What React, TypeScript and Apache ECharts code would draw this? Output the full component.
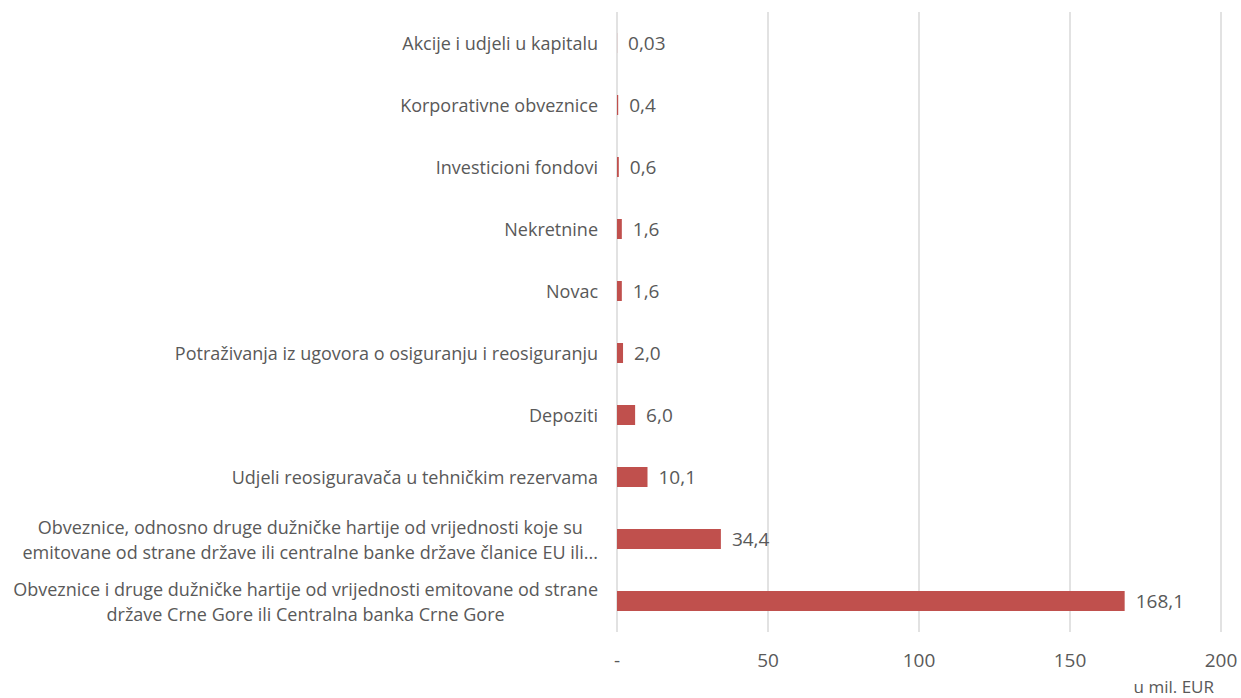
import React, { useEffect, useRef } from "react";
import * as echarts from "echarts";

const categories = [
  "Akcije i udjeli u kapitalu",
  "Korporativne obveznice",
  "Investicioni fondovi",
  "Nekretnine",
  "Novac",
  "Potraživanja iz ugovora o osiguranju i reosiguranju",
  "Depoziti",
  "Udjeli reosiguravača u tehničkim rezervama",
  "Obveznice, odnosno druge dužničke hartije od vrijednosti koje su\nemitovane od strane države ili centralne banke države članice EU ili...",
  "Obveznice i druge dužničke hartije od vrijednosti emitovane od strane\ndržave Crne Gore ili Centralna banka Crne Gore",
];

const values = [0.03, 0.4, 0.6, 1.6, 1.6, 2.0, 6.0, 10.1, 34.4, 168.1];

const xTicks = [0, 50, 100, 150, 200];
const unitLabel = "u mil. EUR";

const FONT = "Open Sans";
const TEXT = "#595959";
const FS = 18;
const FSN = 19;

function fmt(v: number): string {
  const s = v < 0.1 ? v.toFixed(2) : v.toFixed(1);
  return s.replace(".", ",");
}

export default function App() {
  const ref = useRef<HTMLDivElement>(null);
  useEffect(() => {
    if (!ref.current) return;
    const chart = echarts.init(ref.current, undefined, { renderer: "svg" });
    chart.setOption({
      animation: false,
      backgroundColor: "#ffffff",
      textStyle: { fontFamily: FONT },
      title: {
        text: unitLabel,
        right: 27,
        top: 677,
        padding: 0,
        textStyle: { fontFamily: FONT, fontSize: 17, fontWeight: "normal", color: TEXT, lineHeight: 19 },
      },
      grid: { left: 617, right: 20, top: 12, bottom: 66, containLabel: false },
      xAxis: {
        type: "value",
        min: xTicks[0],
        max: xTicks[xTicks.length - 1],
        interval: 50,
        axisLine: { show: false },
        axisTick: { show: false },
        splitLine: { show: true, lineStyle: { color: "#D9D9D9", width: 1.5 } },
        axisLabel: {
          margin: 18,
          fontSize: FSN,
          fontFamily: FONT,
          color: TEXT,
          formatter: (v: number) => (v === 0 ? "-" : String(v)),
        },
      },
      yAxis: {
        type: "category",
        inverse: true,
        data: categories,
        axisLine: { show: false },
        axisTick: { show: false },
        axisLabel: {
          interval: 0,
          margin: 19,
          fontSize: FS,
          fontFamily: FONT,
          color: TEXT,
          lineHeight: 25,
          align: "right",
          formatter: (v: string) =>
            v
              .split("\n")
              .map((l) => `{c|${l}}`)
              .join("\n"),
          rich: {
            c: { align: "center", fontSize: FS, fontFamily: FONT, color: TEXT, lineHeight: 25 },
          },
        },
      },
      series: [
        {
          type: "bar",
          data: values,
          barWidth: 20,
          itemStyle: { color: "#C0504D" },
          label: {
            show: true,
            position: "right",
            distance: 11,
            fontSize: FSN,
            fontFamily: FONT,
            color: TEXT,
            formatter: (p: any) => fmt(p.value),
          },
        },
      ],
    });
    return () => chart.dispose();
  }, []);
  return (
    <div
      ref={ref}
      style={{ position: "fixed", left: 0, top: 0, width: 1241, height: 698 }}
    />
  );
}
